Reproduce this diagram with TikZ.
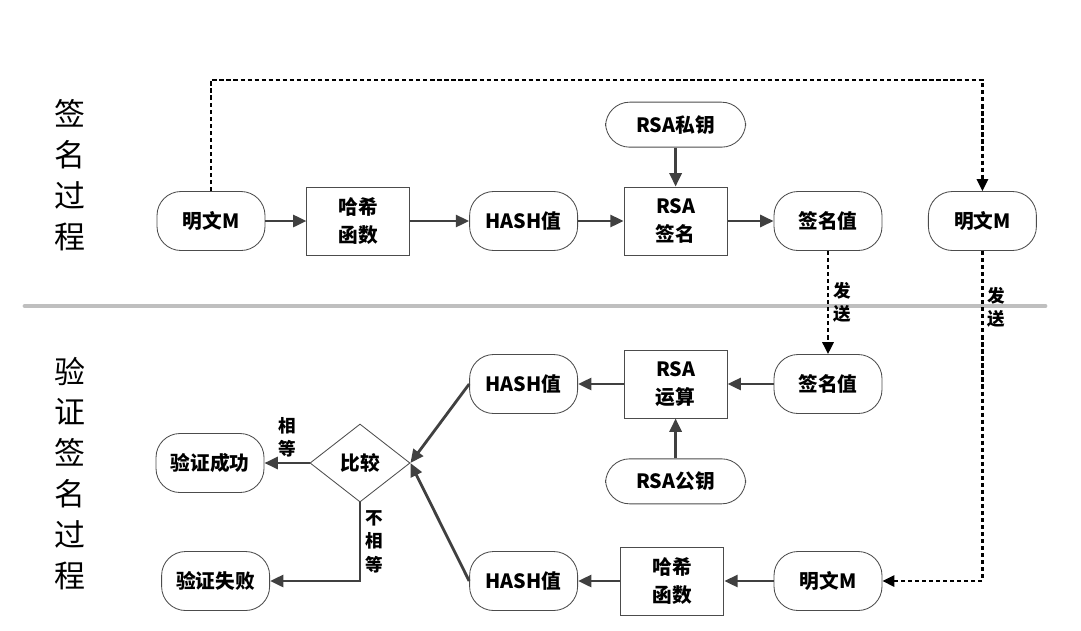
\documentclass[tikz,border=0pt]{standalone}
\usepackage{fontspec}
\usepackage{xcolor}
\usepackage{tikz}
\usetikzlibrary{shapes.geometric,arrows.meta,positioning}
\newfontfamily\cjk{Noto Sans CJK SC}
\definecolor{linegray}{HTML}{404040}
\definecolor{sepgray}{HTML}{BFBFBF}

\begin{document}
\begin{tikzpicture}[
    node distance=1cm,
    pill/.style={rectangle, draw=black!70, line width=0.6pt, rounded corners=0.6cm, align=center, minimum height=1.475cm, minimum width=2.7cm, inner sep=0pt, font=\cjk\bfseries\fontsize{14}{20}\selectfont},
    keypill/.style={pill, minimum height=1.125cm, minimum width=3.5cm},
    procbox/.style={rectangle, draw=black!70, line width=0.6pt, align=center, minimum height=1.7cm, minimum width=2.575cm, inner sep=0pt, font=\cjk\bfseries\fontsize{14}{20}\selectfont},
    decide/.style={diamond, draw=black!70, line width=0.6pt, minimum width=2.5cm, minimum height=1.95cm, inner sep=0pt, font=\cjk\bfseries\fontsize{14}{20}\selectfont},
    sidetitle/.style={align=center, font=\cjk\fontsize{22}{29}\selectfont},
    lbl/.style={align=center, inner sep=3pt, font=\cjk\bfseries\fontsize{12.5}{16.5}\selectfont},
    arrow/.style={-{Triangle[length=9.5pt, width=8.5pt]}, line width=2pt, draw=linegray},
    sendline/.style={-{Triangle[length=8.5pt, width=8pt]}, line width=1.6pt, dash pattern=on 3pt off 2pt}
]
    \useasboundingbox (0,0) rectangle (27.025,-15.75);

    % signing
    \node [sidetitle] (signtitle) at (1.75,-4.375) {签\\名\\过\\程};
    \node [pill] (msg1) at (5.275,-5.525) {明文M};
    \node [procbox] (hashfn1) at (8.96,-5.525) {哈希\\函数};
    \node [pill] (hash1) at (13.09,-5.525) {HASH值};
    \node [procbox] (sign) at (16.89,-5.525) {RSA\\签名};
    \node [keypill, above=0.975cm of sign] (prikey) {RSA私钥};
    \node [pill] (sigval1) at (20.7,-5.525) {签名值};
    \node [pill] (msg2) at (24.56,-5.525) {明文M};

    \draw [arrow] (msg1) -- (hashfn1);
    \draw [arrow] (hashfn1) -- (hash1);
    \draw [arrow] (hash1) -- (sign);
    \draw [arrow] (prikey) -- (sign);
    \draw [arrow] (sign) -- (sigval1);

    \coordinate (topline) at (0,-2);
    \draw [sendline] (msg1.north) -- (msg1.north |- topline) -| (msg2.north);

    % separator
    \draw [sepgray, line width=3.5pt, line cap=round] (0.625,-7.65) -- (26.125,-7.65);

    % verifying
    \node [sidetitle] (verifytitle) at (1.75,-11.83) {验\\证\\签\\名\\过\\程};
    \node [pill] (sigval2) at (20.7,-9.6) {签名值};
    \node [procbox] (rsaop) at (16.89,-9.6) {RSA\\运算};
    \node [keypill, below=of rsaop] (pubkey) {RSA公钥};
    \node [pill] (hash2) at (13.09,-9.6) {HASH值};
    \node [decide] (cmp) at (9.0,-11.575) {比较};
    \node [pill] (ok) at (5.25,-11.575) {验证成功};
    \node [pill] (fail) at (5.39,-14.525) {验证失败};
    \node [pill] (msg3) at (20.7,-14.525) {明文M};
    \node [procbox] (hashfn2) at (16.81,-14.525) {哈希\\函数};
    \node [pill] (hash3) at (13.09,-14.525) {HASH值};

    \draw [sendline] (sigval1.south) -- node [lbl, right] (send1) {发\\送} (sigval2.north);
    \draw [sendline] (msg2.south) |- node [lbl, right, pos=0.085] (send2) {发\\送} (msg3.east);

    \draw [arrow] (sigval2) -- (rsaop);
    \draw [arrow] (pubkey) -- (rsaop);
    \draw [arrow] (rsaop) -- (hash2);
    \draw [arrow] (msg3) -- (hashfn2);
    \draw [arrow] (hashfn2) -- (hash3);
    \draw [arrow] (hash2.west) -- (cmp.east);
    \draw [arrow] (hash3.west) -- (cmp.east);
    \draw [arrow] (cmp.west) -- node [lbl, above] (eqlbl) {相\\等} (ok.east);
    \draw [arrow] (cmp.south) |- node [lbl, right, pos=0.25] (neqlbl) {不\\相\\等} (fail.east);
\end{tikzpicture}
\end{document}
